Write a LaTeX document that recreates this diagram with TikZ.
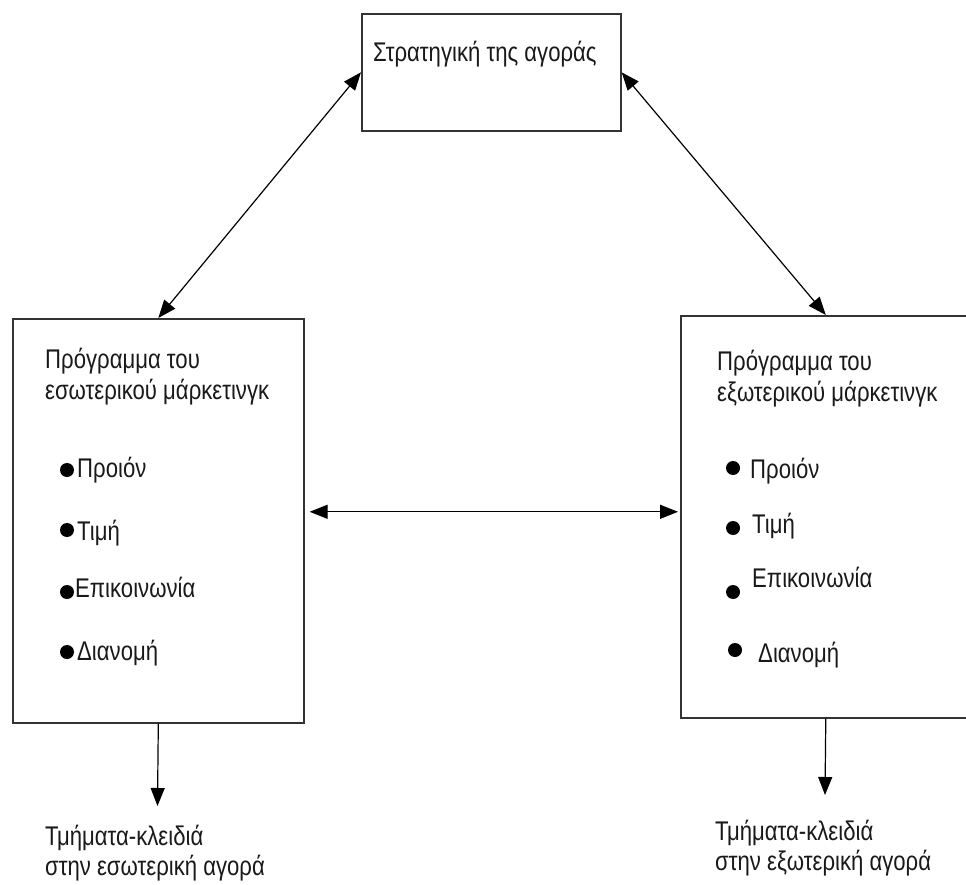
\documentclass[tikz,border=0pt]{standalone}
\usepackage{fontspec}
\setmainfont{Liberation Sans}[FakeStretch=0.82]
\usetikzlibrary{arrows.meta}
\begin{document}
\begin{tikzpicture}[x=1pt,y=-1pt,
  box/.style={draw=black!80, line width=1.6pt, rectangle, inner sep=0pt, anchor=north west},
  txt/.style={anchor=base west, inner sep=0pt, text=black!90, font=\fontsize{27}{31}\selectfont},
  dot/.style={circle, fill=black, inner sep=0pt, minimum size=14pt},
  link/.style={line width=1.2pt, {Triangle[length=18pt,width=14pt]}-{Triangle[length=18pt,width=14pt]}},
  down/.style={line width=1.2pt, -{Triangle[length=18pt,width=14pt]}}]
\useasboundingbox (0,0) rectangle (966,885);

% boxes
\node[box, minimum width=259pt, minimum height=117pt] (top) at (361,13) {};
\node[box, minimum width=291pt, minimum height=404pt] (left) at (12,318) {};
\node[box, minimum width=290pt, minimum height=402pt] (right) at (680,315) {};

% market strategy
\node[txt] (ttop) at (373,62) {Στρατηγική της αγοράς};

% internal marketing programme
\node[txt] (lh1) at (45,368) {Πρόγραμμα του};
\node[txt] (lh2) at (45,399) {εσωτερικού μάρκετινγκ};
\node[dot] (ld1) at (67,470) {};
\node[dot] (ld2) at (67,530) {};
\node[dot] (ld3) at (67,592) {};
\node[dot] (ld4) at (67,652) {};
\node[txt] (li1) at (77,477) {Προιόν};
\node[txt] (li2) at (77,540) {Τιμή};
\node[txt] (li3) at (75,597) {Επικοινωνία};
\node[txt] (li4) at (77,660) {Διανομή};

% external marketing programme
\node[txt] (rh1) at (717,370) {Πρόγραμμα του};
\node[txt] (rh2) at (717,401) {εξωτερικού μάρκετινγκ};
\node[dot] (rd1) at (733,468) {};
\node[dot] (rd2) at (733,528) {};
\node[dot] (rd3) at (733,592) {};
\node[dot] (rd4) at (735,650) {};
\node[txt] (ri1) at (750,478) {Προιόν};
\node[txt] (ri2) at (752,533) {Τιμή};
\node[txt] (ri3) at (752,587) {Επικοινωνία};
\node[txt] (ri4) at (758,662) {Διανομή};

% key segments
\node[txt] (lk1) at (45,845) {Τμήματα-κλειδιά};
\node[txt] (lk2) at (45,875) {στην εσωτερική αγορά};
\node[txt] (rk1) at (715,840) {Τμήματα-κλειδιά};
\node[txt] (rk2) at (715,870) {στην εξωτερική αγορά};

% connectors
\coordinate (lend) at (157.5,806);
\coordinate (rend) at (825,795);
\draw[link] (top.west) -- (left.north);
\draw[link] (top.east) -- (right.north);
\draw[link] ([xshift=5pt,yshift=9pt]left.east) -- ([xshift=-2pt,yshift=5pt]right.west);
\draw[down] (left.south) -- (lend);
\draw[down] (right.south) -- (rend);
\end{tikzpicture}
\end{document}
